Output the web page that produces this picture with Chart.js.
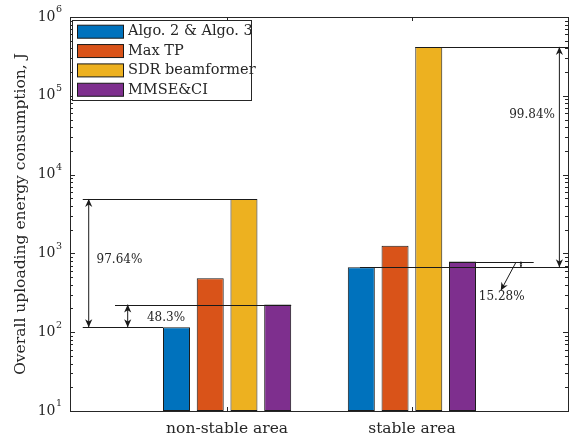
<!DOCTYPE html>
<html>
<head>
<meta charset="utf-8">
<script src="https://cdn.jsdelivr.net/npm/chart.js@4"></script>
<style>
    html, body { margin: 0; padding: 0; background: #fff; }
    #wrap { width: 570px; height: 438px; }
</style>
</head>
<body>
<div id="wrap"><canvas id="energyChart" width="570" height="438"></canvas></div>
<script>
// datos (J)
const categories = ["non-stable area", "stable area"];
const seriesNames = ["Algo. 2 & Algo. 3", "Max TP", "SDR beamformer", "MMSE&CI"];
const algoEnergy = [115.8, 668];
const maxTpEnergy = [484, 1249];
const sdrEnergy = [4905, 417500];
const mmseEnergy = [224, 788.5];
const yDecades = [1, 2, 3, 4, 5, 6];
const gainLabels = ["97.64%", "48.3%", "99.84%", "15.28%"];

const seriesColors = ['#0072BD', '#D95319', '#EDB120', '#7E2F8E'];
const axisColor = '#262626';
const serif = "'DejaVu Serif', serif";

const seriesValues = [algoEnergy, maxTpEnergy, sdrEnergy, mmseEnergy];

const datasets = seriesNames.map((name, i) => ({
    label: name,
    data: seriesValues[i].map((v, j) => ({ x: j + 1, y: v })),
    backgroundColor: seriesColors[i],
    borderColor: '#1a1a1a',
    borderWidth: 1,
    borderSkipped: false,
    categoryPercentage: 0.73,
    barPercentage: 0.8
}));

function arrowHead(ctx, x, y, angle, len) {
    const half = len * 0.45;
    ctx.save();
    ctx.translate(x, y);
    ctx.rotate(angle);
    ctx.beginPath();
    ctx.moveTo(0, 0);
    ctx.lineTo(-len, -half);
    ctx.lineTo(-len * 0.7, 0);
    ctx.lineTo(-len, half);
    ctx.closePath();
    ctx.fill();
    ctx.restore();
}

function arrow(ctx, x1, y1, x2, y2, both) {
    const dist = Math.hypot(x2 - x1, y2 - y1);
    const len = Math.min(8, both ? dist / 2 : dist);
    ctx.beginPath();
    ctx.moveTo(x1, y1);
    ctx.lineTo(x2, y2);
    ctx.stroke();
    const a = Math.atan2(y2 - y1, x2 - x1);
    arrowHead(ctx, x2, y2, a, len);
    if (both) arrowHead(ctx, x1, y1, a + Math.PI, len);
}

function barEdge(chart, ds, idx, side) {
    const bar = chart.getDatasetMeta(ds).data[idx];
    return side === 'left' ? bar.x - bar.width / 2 : side === 'right' ? bar.x + bar.width / 2 : bar.x;
}

const annotationsPlugin = {
    id: 'annotations',
    afterDatasetsDraw(chart) {
        const ctx = chart.ctx;
        const xs = chart.scales.x;
        const ys = chart.scales.y;
        const X = v => xs.getPixelForValue(v);
        const Y = v => ys.getPixelForValue(v);

        ctx.save();
        ctx.strokeStyle = '#1a1a1a';
        ctx.fillStyle = '#1a1a1a';
        ctx.lineWidth = 1;

        function hline(x1, x2, v) {
            const y = Math.round(Y(v)) + 0.5;
            ctx.beginPath();
            ctx.moveTo(x1, y);
            ctx.lineTo(x2, y);
            ctx.stroke();
        }

        // zona no estable
        hline(X(0.219), barEdge(chart, 2, 0, 'center'), sdrEnergy[0]);
        hline(X(0.219), barEdge(chart, 0, 0, 'left'), algoEnergy[0]);
        arrow(ctx, X(0.2512), Y(algoEnergy[0]), X(0.2512), Y(sdrEnergy[0]), true);
        hline(X(0.3935), barEdge(chart, 3, 0, 'right'), mmseEnergy[0]);
        arrow(ctx, X(0.4622), Y(algoEnergy[0]), X(0.4622), Y(mmseEnergy[0]), true);

        // zona estable
        hline(barEdge(chart, 2, 1, 'left'), X(2.85), sdrEnergy[1]);
        hline(X(1.719), X(2.85), algoEnergy[1]);
        arrow(ctx, X(2.798), Y(algoEnergy[1]), X(2.798), Y(sdrEnergy[1]), true);
        hline(barEdge(chart, 3, 1, 'left'), X(2.659), mmseEnergy[1]);
        arrow(ctx, X(2.590), Y(algoEnergy[1]), X(2.590), Y(mmseEnergy[1]), true);
        arrow(ctx, X(2.562), Y(764), X(2.481), Y(337), false);

        ctx.fillStyle = axisColor;
        ctx.font = "12px " + serif;
        ctx.textBaseline = 'middle';
        ctx.textAlign = 'left';
        ctx.fillText(gainLabels[0], X(0.2937), Y(820));
        ctx.textAlign = 'center';
        ctx.fillText(gainLabels[1], X(0.6695), Y(152));
        ctx.textAlign = 'right';
        ctx.fillText(gainLabels[2], X(2.774), Y(56900));
        ctx.textAlign = 'center';
        ctx.fillText(gainLabels[3], X(2.486), Y(283));
        ctx.restore();
    },
    afterDraw(chart) {
        const ctx = chart.ctx;
        const area = chart.chartArea;
        const xs = chart.scales.x;
        const ys = chart.scales.y;
        ctx.save();

        // caja de ejes estilo MATLAB
        ctx.strokeStyle = axisColor;
        ctx.lineWidth = 1;
        ctx.strokeRect(Math.round(area.left) + 0.5, Math.round(area.top) + 0.5,
            Math.round(area.right - area.left) - 1, Math.round(area.bottom - area.top));

        // marcas del eje y (hacia adentro, ambos lados)
        ys.ticks.forEach(t => {
            const y = Math.round(ys.getPixelForValue(t.value)) + 0.5;
            const major = Math.abs(Math.log10(t.value) - Math.round(Math.log10(t.value))) < 1e-9;
            const len = major ? 5 : 3;
            ctx.beginPath();
            ctx.moveTo(area.left, y);
            ctx.lineTo(area.left + len, y);
            ctx.moveTo(area.right - 1, y);
            ctx.lineTo(area.right - 1 - len, y);
            ctx.stroke();
        });

        // marcas del eje x
        xs.ticks.forEach(t => {
            const x = Math.round(xs.getPixelForValue(t.value)) + 0.5;
            ctx.beginPath();
            ctx.moveTo(x, area.bottom);
            ctx.lineTo(x, area.bottom - 4);
            ctx.moveTo(x, area.top);
            ctx.lineTo(x, area.top + 4);
            ctx.stroke();
        });

        // etiquetas 10^n
        ctx.fillStyle = axisColor;
        ctx.textBaseline = 'middle';
        yDecades.forEach(e => {
            const y = ys.getPixelForValue(Math.pow(10, e));
            ctx.font = "9.5px " + serif;
            ctx.textAlign = 'left';
            const supW = ctx.measureText(String(e)).width;
            const right = area.left - 8;
            ctx.fillText(String(e), right - supW, y - 7);
            ctx.font = "14px " + serif;
            ctx.textAlign = 'right';
            ctx.fillText("10", right - supW - 0.5, y);
        });

        // leyenda
        const lx = 72.5, ly = 20.5, lw = 179, lh = 80;
        ctx.fillStyle = '#fff';
        ctx.fillRect(lx, ly, lw, lh);
        ctx.strokeStyle = axisColor;
        ctx.strokeRect(lx, ly, lw, lh);
        chart.data.datasets.forEach((ds, i) => {
            const cy = 31.7 + i * 19.35;
            ctx.fillStyle = ds.backgroundColor;
            ctx.fillRect(77.5, cy - 6.5, 46, 13);
            ctx.strokeStyle = '#1a1a1a';
            ctx.strokeRect(77.5, cy - 6.5, 46, 13);
            ctx.fillStyle = axisColor;
            ctx.font = "14.5px " + serif;
            ctx.textAlign = 'left';
            ctx.textBaseline = 'middle';
            ctx.fillText(ds.label, 128, cy);
        });
        ctx.restore();
    }
};

const yTicks = [];
yDecades.forEach(e => {
    for (let k = 1; k <= 9; k++) {
        if (e === yDecades[yDecades.length - 1] && k > 1) break;
        yTicks.push({ value: k * Math.pow(10, e) });
    }
});

new Chart(document.getElementById('energyChart'), {
    type: 'bar',
    data: { datasets: datasets },
    options: {
        responsive: false,
        animation: false,
        layout: { padding: { top: 17, right: 1, bottom: 0, left: 0 } },
        plugins: {
            legend: { display: false },
            tooltip: { enabled: false }
        },
        scales: {
            x: {
                type: 'linear',
                min: 0.15,
                max: 2.85,
                offset: false,
                afterBuildTicks: s => { s.ticks = categories.map((c, i) => ({ value: i + 1 })); },
                afterFit: s => { s.height = 27; },
                ticks: {
                    callback: v => categories[v - 1] || '',
                    font: { family: serif, size: 15.5 },
                    color: axisColor,
                    padding: 9,
                    maxRotation: 0
                },
                grid: { display: false, drawTicks: false },
                border: { display: false }
            },
            y: {
                type: 'logarithmic',
                min: 10,
                max: 1e6,
                afterBuildTicks: s => { s.ticks = yTicks.slice(); },
                afterFit: s => { s.width = 70; },
                ticks: { display: false },
                grid: { display: false, drawTicks: false },
                border: { display: false },
                title: {
                    display: true,
                    text: 'Overall uploading energy consumption, J',
                    font: { family: serif, size: 15.5 },
                    color: axisColor,
                    padding: { top: 12, bottom: 0 }
                }
            }
        }
    },
    plugins: [annotationsPlugin]
});
</script>
</body>
</html>
